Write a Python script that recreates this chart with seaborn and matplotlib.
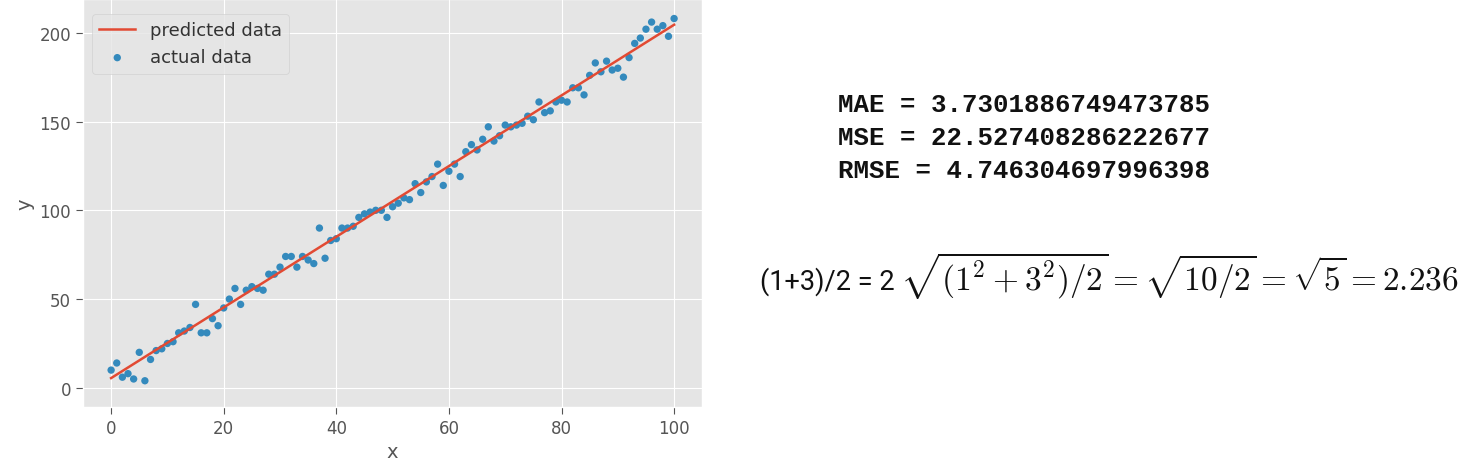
import matplotlib
matplotlib.use("Agg")
import matplotlib.pyplot as plt
import seaborn as sns
import numpy as np
import pandas as pd

x_actual = list(range(0, 101))
y_actual = [10, 14, 6, 8, 5, 20, 4, 16, 21, 22,
            25, 26, 31, 32, 34, 47, 31, 31, 39, 35,
            45, 50, 56, 47, 55, 57, 56, 55, 64, 64,
            68, 74, 74, 68, 74, 72, 70, 90, 73, 83,
            84, 90, 90, 91, 96, 98, 99, 100, 100, 96,
            102, 104, 107, 106, 115, 110, 116, 119, 126, 114,
            122, 126, 119, 133, 137, 134, 140, 147, 139, 142,
            148, 147, 148, 149, 153, 151, 161, 155, 156, 161,
            162, 161, 169, 169, 165, 176, 183, 178, 184, 179,
            180, 175, 186, 194, 197, 202, 206, 202, 204, 198,
            208]
x_pred = [0, 100]
y_pred = [5.5, 204.5]

metric_lines = ["MAE = 3.7301886749473785",
                "MSE = 22.527408286222677",
                "RMSE = 4.746304697996398"]
formula_text = "(1+3)/2 = 2"
formula_math = r"$\sqrt{(1^2+3^2)/2} = \sqrt{10/2} = \sqrt{5} = 2.236$"

plt.style.use("ggplot")
plt.rcParams["mathtext.fontset"] = "cm"

df_act = pd.DataFrame({"x": x_actual, "y": y_actual})
df_pred = pd.DataFrame({"x": x_pred, "y": y_pred})

fig = plt.figure(figsize=(14.71, 4.64), dpi=100)
ax = fig.add_axes([0.0564, 0.121, 0.421, 0.879])

sns.lineplot(data=df_pred, x="x", y="y", ax=ax, color="#E24A33", lw=1.8,
             label="predicted data")
sns.scatterplot(data=df_act, x="x", y="y", ax=ax, color="#348ABD", s=28,
                edgecolor="none", label="actual data")

ax.set_xticks([0, 20, 40, 60, 80, 100])
ax.set_yticks([0, 50, 100, 150, 200])
ax.set_xlim(-5, 105)
ax.set_ylim(-10.7, 219)
ax.tick_params(labelsize=12, colors="#555555", length=5)
ax.set_xlabel("x", fontsize=14, color="#555555")
ax.set_ylabel("y", fontsize=14, color="#555555")
leg = ax.legend(loc="upper left", fontsize=13, frameon=True,
                bbox_to_anchor=(0.0, 0.985), borderaxespad=0.5)
for t in leg.get_texts():
    t.set_color("#333333")

mono = "Liberation Mono"
for i, t in enumerate(metric_lines):
    fig.text(838 / 1471, 1 - (105 + 33 * i) / 464, t, fontsize=18.5,
             family=mono, weight="bold", va="center", ha="left", color="#111111")

fig.text(760 / 1471, 1 - 290 / 464, formula_text, fontsize=19.5, family="Roboto",
         va="baseline", ha="left", color="#111111")
fig.text(900 / 1471, 1 - 290 / 464, formula_math, fontsize=24.0,
         va="baseline", ha="left", color="#111111")

fig.savefig("out.png", dpi=100)
